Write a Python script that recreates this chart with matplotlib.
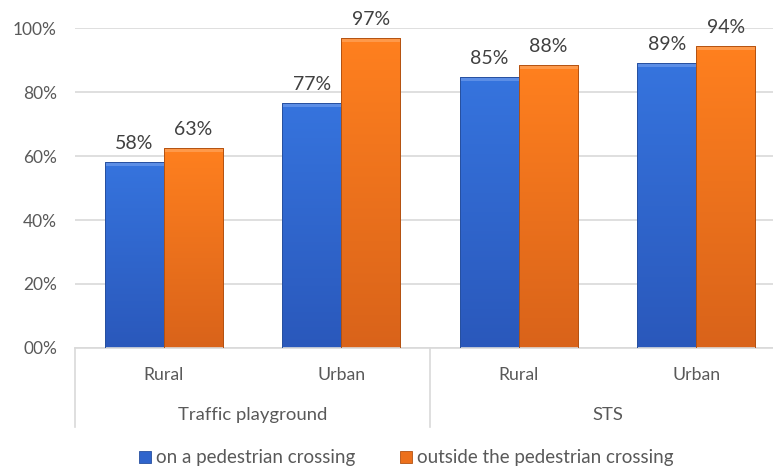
import matplotlib
matplotlib.use('Agg')
import matplotlib.pyplot as plt
import numpy as np
from matplotlib.colors import LinearSegmentedColormap
from matplotlib.patches import Rectangle, Patch
from matplotlib.transforms import blended_transform_factory

# ---- data ----
groups = ['Traffic playground', 'STS']
subcats = ['Rural', 'Urban', 'Rural', 'Urban']
series_names = ['on a pedestrian crossing', 'outside the pedestrian crossing']
on_crossing = [58.2, 76.7, 84.7, 89.0]
outside_crossing = [62.6, 96.9, 88.4, 94.5]
on_labels = ['58%', '77%', '85%', '89%']
outside_labels = ['63%', '97%', '88%', '94%']
yticks = [0, 20, 40, 60, 80, 100]
ytick_labels = ['00%', '20%', '40%', '60%', '80%', '100%']

plt.rcParams['font.family'] = ['Lato', 'DejaVu Sans']

TEXT = '#595959'
GRID = '#d9d9d9'
blue_cmap = LinearSegmentedColormap.from_list('b', ['#2a58bb', '#3674de'])
orange_cmap = LinearSegmentedColormap.from_list('o', ['#d9631a', '#ff801f'])

fig = plt.figure(figsize=(7.73, 4.70), dpi=100)
ax = fig.add_axes([75/773, 122/470, 710/773, 320/470])

x = np.arange(len(subcats))
w = 0.333

def gradient_bars(xpos, vals, cmap, edge, top):
    bars = ax.bar(xpos, vals, width=w, color='none', edgecolor=edge, linewidth=0.7, zorder=3)
    grad = np.linspace(0, 1, 256).reshape(-1, 1)
    for b in bars:
        x0, y0 = b.get_x(), b.get_y()
        bw, bh = b.get_width(), b.get_height()
        im = ax.imshow(grad, extent=[x0, x0 + bw, y0, y0 + bh], origin='lower',
                       aspect='auto', cmap=cmap, zorder=2)
        im.set_clip_path(b)
        ax.add_patch(Rectangle((x0, y0 + bh - 1.3), bw, 1.3, facecolor=top,
                               edgecolor='none', alpha=0.55, zorder=2.5))
    return bars

b1 = gradient_bars(x - w/2, on_crossing, blue_cmap, '#27509f', '#7ea6ee')
b2 = gradient_bars(x + w/2, outside_crossing, orange_cmap, '#b35212', '#ffb070')

for bars, labels in ((b1, on_labels), (b2, outside_labels)):
    for b, lab in zip(bars, labels):
        ax.annotate(lab, (b.get_x() + b.get_width()/2, b.get_height()), xytext=(0, 7),
                    textcoords='offset points', ha='center', va='bottom',
                    fontsize=14, color='#404040')

ax.set_xlim(-0.5, len(subcats) - 0.5)
ax.set_ylim(0, 100)
ax.set_yticks(yticks)
ax.set_yticklabels(ytick_labels, fontsize=12.5, color=TEXT)
ax.tick_params(axis='y', length=0, pad=13)
ax.set_xticks([])
ax.yaxis.grid(True, color=GRID, linewidth=1.2, zorder=0)
ax.set_axisbelow(True)
for s in ['top', 'right', 'left']:
    ax.spines[s].set_visible(False)
ax.spines['bottom'].set_color(GRID)
ax.spines['bottom'].set_linewidth(1.2)

trans = blended_transform_factory(ax.transData, ax.transAxes)
for xi, lab in zip(x, subcats):
    ax.text(xi, -0.084, lab, transform=trans, ha='center', va='center', fontsize=12.7, color=TEXT)
for gi, g in enumerate(groups):
    ax.text(gi*2 + 0.5, -0.209, g, transform=trans, ha='center', va='center', fontsize=13.3, color=TEXT)
for sx in [-0.5, 1.5, 3.5]:
    ax.plot([sx, sx], [0, -0.247], transform=trans, color=GRID, linewidth=1.2, clip_on=False)

handles = [Patch(facecolor='#2f64cc', edgecolor='#27509f', linewidth=0.6),
           Patch(facecolor='#ec701c', edgecolor='#b35212', linewidth=0.6)]
fig.legend(handles, series_names, loc='center', bbox_to_anchor=(406/773, 1 - 458/470),
           ncol=2, frameon=False, fontsize=13.5, labelcolor=TEXT,
           handlelength=0.65, handleheight=0.65, handletextpad=0.25, columnspacing=2.4)

fig.savefig('out.png', dpi=100)
